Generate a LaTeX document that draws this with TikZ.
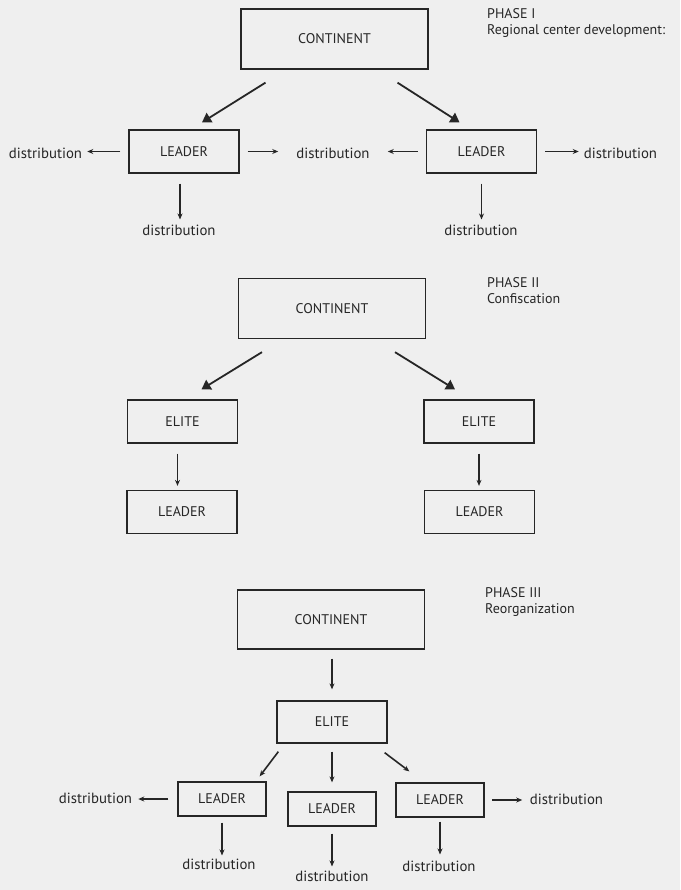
\documentclass[tikz,border=0pt]{standalone}
\usepackage{fontspec}
\setmainfont{PT Sans}
\usetikzlibrary{arrows.meta}
\definecolor{paper}{HTML}{EFEFEF}
\definecolor{ink}{HTML}{262626}

\begin{document}
\begin{tikzpicture}[x=1pt,y=-1pt,
  box/.style={draw=ink, line width=1.3pt, text=ink, inner sep=0pt,
    font=\fontsize{14}{16}\selectfont},
  bigbox/.style={box, minimum width=187pt, minimum height=60pt},
  midbox/.style={box, minimum width=110pt, minimum height=43pt},
  smallbox/.style={box, minimum width=88pt, minimum height=34pt},
  word/.style={text=ink, inner sep=0pt, font=\fontsize{14.8}{16}\selectfont},
  phase/.style={text=ink, inner sep=0pt, align=left, anchor=north west,
    font=\fontsize{14}{16}\selectfont},
  arrow/.style={ink, line width=1.6pt, -{Stealth[length=6pt,width=5pt]},
    shorten <=8pt, shorten >=5pt},
  bigarrow/.style={ink, line width=1.8pt, -{Triangle[length=9pt,width=11pt]}}]
  \fill[paper] (0,0) rectangle (680,890);
  \useasboundingbox (0,0) rectangle (680,890);

  % phase I
  \node[bigbox] (c1) at (334.5,39) {CONTINENT};
  \node[midbox] (l1) at (184,151.5) {LEADER};
  \node[midbox] (l2) at (481.5,151.5) {LEADER};
  \node[word] (d1) at (45.5,153) {distribution};
  \node[word] (d2) at (333,153) {distribution};
  \node[word] (d3) at (620.5,153) {distribution};
  \node[word] (d4) at (179,230) {distribution};
  \node[word] (d5) at (481,230) {distribution};
  \node[phase] (p1) at (487,8) {PHASE I\\Regional center development:};
  \draw[bigarrow] ([xshift=-69pt,yshift=-13pt]c1.south) -- ([xshift=18pt,yshift=7pt]l1.north);
  \draw[bigarrow] ([xshift=63pt,yshift=-13pt]c1.south) -- ([xshift=-22pt,yshift=7pt]l2.north);
  \draw[arrow] (l1.west) -- (l1.west -| d1.east);
  \draw[arrow, shorten >=18pt] (l1.east) -- (l1.east -| d2.west);
  \draw[arrow, shorten >=18pt] (l2.west) -- (l2.west -| d2.east);
  \draw[arrow] (l2.east) -- (l2.east -| d3.west);
  \draw[arrow, shorten <=10pt] ([xshift=-4pt]l1.south) -- ([xshift=-4pt]l1.south |- d4.north);
  \draw[arrow, shorten <=10pt] (l2.south) -- (l2.south |- d5.north);

  % phase II
  \node[bigbox] (c2) at (332,308.5) {CONTINENT};
  \node[midbox] (e1) at (182.5,421.5) {ELITE};
  \node[midbox] (e2) at (479,421.5) {ELITE};
  \node[midbox] (l3) at (182,512) {LEADER};
  \node[midbox] (l4) at (479.5,512) {LEADER};
  \node[phase] (p2) at (487,277) {PHASE II\\Confiscation};
  \draw[bigarrow] ([xshift=-70pt,yshift=-13pt]c2.south) -- ([xshift=19pt,yshift=10pt]e1.north);
  \draw[bigarrow] ([xshift=63pt,yshift=-13pt]c2.south) -- ([xshift=-24pt,yshift=10pt]e2.north);
  \draw[arrow, shorten <=10pt, shorten >=4pt] ([xshift=-5pt]e1.south) -- ([xshift=-5pt]e1.south |- l3.north);
  \draw[arrow, shorten <=10pt, shorten >=4pt] (e2.south) -- (e2.south |- l4.north);

  % phase III
  \node[bigbox, minimum height=59pt] (c3) at (331,619.5) {CONTINENT};
  \node[midbox, minimum height=42pt] (e3) at (332,722) {ELITE};
  \node[smallbox] (l5) at (222,799) {LEADER};
  \node[smallbox] (l6) at (332,809) {LEADER};
  \node[smallbox] (l7) at (440,800) {LEADER};
  \node[word] (d6) at (95.5,798) {distribution};
  \node[word] (d7) at (566.5,799) {distribution};
  \node[word] (d8) at (219,864) {distribution};
  \node[word] (d9) at (332,876) {distribution};
  \node[word] (d10) at (439,866) {distribution};
  \node[phase] (p3) at (485,587) {PHASE III\\Reorganization};
  \draw[arrow, shorten <=9pt, shorten >=11pt] ([xshift=1pt]c3.south) -- ([xshift=1pt]c3.south |- e3.north);
  \draw[arrow, shorten <=0pt, shorten >=0pt] ([xshift=2pt,yshift=-8pt]e3.south west) -- ([xshift=-7pt,yshift=5pt]l5.north east);
  \draw[arrow, shorten >=9pt] (e3.south) -- (l6.north);
  \draw[arrow, shorten <=0pt, shorten >=0pt] ([xshift=-3pt,yshift=-9pt]e3.south east) -- ([xshift=14pt,yshift=11pt]l7.north west);
  \draw[arrow, shorten <=9pt, shorten >=6pt] (l5.west) -- (l5.west -| d6.east);
  \draw[arrow, shorten <=7.5pt, shorten >=7.5pt] (l7.east) -- (l7.east -| d7.west);
  \draw[arrow, shorten <=6pt, shorten >=3pt] (l5.south) -- (l5.south |- d8.north);
  \draw[arrow, shorten <=7pt, shorten >=4pt] (l6.south) -- (l6.south |- d9.north);
  \draw[arrow, shorten <=4pt, shorten >=6pt] (l7.south) -- (l7.south |- d10.north);
\end{tikzpicture}
\end{document}
